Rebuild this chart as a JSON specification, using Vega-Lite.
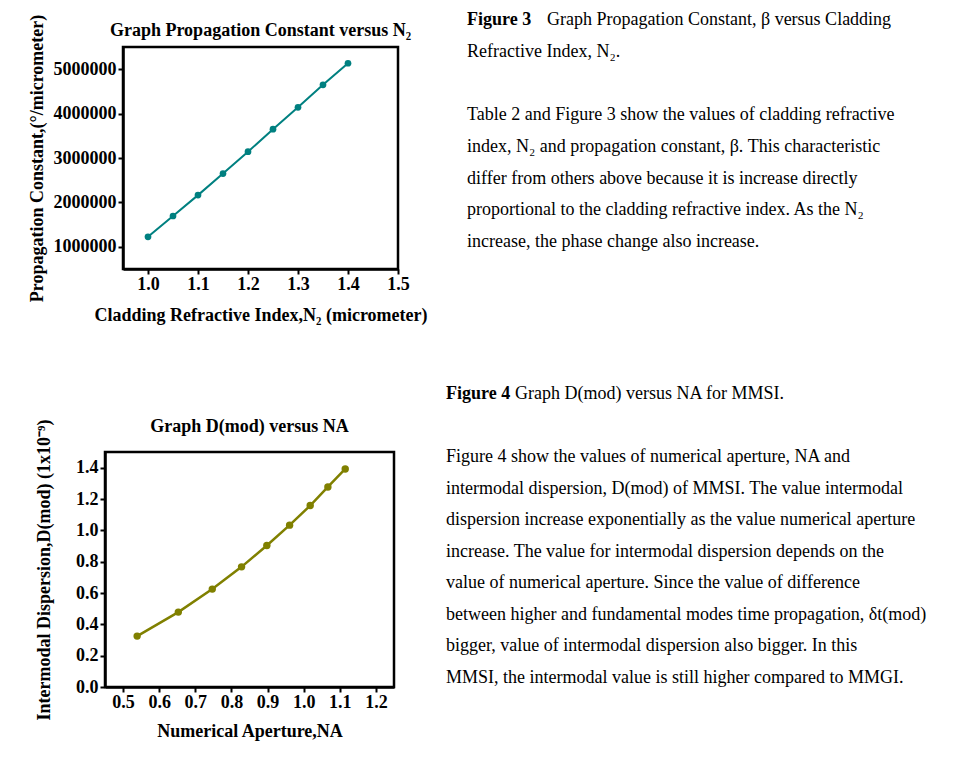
{
  "$schema": "https://vega.github.io/schema/vega-lite/v6.json",
  "background": "white",
  "padding": {"left": 5, "top": 11, "right": 5, "bottom": 5},
  "config": {
    "font": "Liberation Serif",
    "view": {"stroke": "black", "strokeWidth": 2.5},
    "axis": {
      "labelFont": "Liberation Serif", "labelFontSize": 18, "labelFontWeight": "bold", "labelColor": "black",
      "titleFont": "Liberation Serif", "titleFontSize": 18, "titleFontWeight": "bold", "titleColor": "black",
      "domainColor": "black", "domainWidth": 2.5, "tickColor": "black", "tickWidth": 2, "tickSize": 5,
      "grid": false, "labelOverlap": false, "labelFlush": false
    },
    "title": {"font": "Liberation Serif", "fontSize": 18, "fontWeight": "bold", "color": "black", "frame": "group", "baseline": "alphabetic"}
  },
  "spacing": 58,
  "vconcat": [
    {
      "spacing": 0,
      "hconcat": [
        {
          "width": 21, "height": 1,
          "view": {"stroke": null},
          "data": {"values": []},
          "mark": "point",
          "encoding": {}
        },
        {
          "width": 275, "height": 222,
          "title": {"text": "Graph Propagation Constant versus N₂", "offset": -26},
          "data": {"values": [
            {"n2": 1.00, "beta": 1224000}, {"n2": 1.05, "beta": 1694000}, {"n2": 1.10, "beta": 2164000},
            {"n2": 1.15, "beta": 2649000}, {"n2": 1.20, "beta": 3142000}, {"n2": 1.25, "beta": 3649000},
            {"n2": 1.30, "beta": 4142000}, {"n2": 1.35, "beta": 4649000}, {"n2": 1.40, "beta": 5134000}
          ]},
          "mark": {"type": "line", "color": "#008080", "strokeWidth": 2, "point": {"filled": true, "size": 45, "color": "#008080"}},
          "encoding": {
            "x": {"field": "n2", "type": "quantitative", "scale": {"domain": [0.95, 1.5], "nice": false, "zero": false},
                  "axis": {"values": [1.0, 1.1, 1.2, 1.3, 1.4, 1.5], "format": ".1f", "labelPadding": 1, "titlePadding": 13,
                           "title": "Cladding Refractive Index,N₂ (micrometer)"}},
            "y": {"field": "beta", "type": "quantitative", "scale": {"domain": [500000, 5500000], "nice": false, "zero": false},
                  "axis": {"values": [1000000, 2000000, 3000000, 4000000, 5000000], "format": "d", "labelPadding": 2, "titlePadding": 7,
                           "title": "Propagation Constant,(°/micrometer)"}}
          }
        },
        {
          "width": 500, "height": 222,
          "view": {"stroke": null},
          "data": {"values": [
            {"line": 0, "part": "bold", "text": "Figure 3"},
            {"line": 0, "part": "after", "text": "Graph Propagation Constant, β versus Cladding"},
            {"line": 1, "part": "body", "text": "Refractive Index, N₂."},
            {"line": 3, "part": "body", "text": "Table 2 and Figure 3 show the values of cladding refractive"},
            {"line": 4, "part": "body", "text": "index, N₂ and propagation constant, β.  This characteristic"},
            {"line": 5, "part": "body", "text": "differ from others above because it is increase directly"},
            {"line": 6, "part": "body", "text": "proportional to the cladding refractive index.  As the N₂"},
            {"line": 7, "part": "body", "text": "increase, the phase change also increase."}
          ]},
          "encoding": {
            "y": {"field": "line", "type": "quantitative", "scale": {"domain": [0.85, 7.853], "reverse": true, "nice": false, "zero": false}, "axis": null},
            "x": {"value": 38},
            "text": {"field": "text"}
          },
          "layer": [
            {"transform": [{"filter": "datum.part == 'bold'"}],
             "mark": {"type": "text", "align": "left", "baseline": "middle", "font": "Liberation Serif", "fontSize": 18, "fontWeight": "bold", "color": "black"}},
            {"transform": [{"filter": "datum.part == 'after'"}],
             "mark": {"type": "text", "align": "left", "baseline": "middle", "font": "Liberation Serif", "fontSize": 18, "color": "black", "dx": 80}},
            {"transform": [{"filter": "datum.part == 'body'"}],
             "mark": {"type": "text", "align": "left", "baseline": "middle", "font": "Liberation Serif", "fontSize": 18, "color": "black"}}
          ]
        }
      ]
    },
    {
      "spacing": 0,
      "hconcat": [
        {
          "width": 29, "height": 1,
          "view": {"stroke": null},
          "data": {"values": []},
          "mark": "point",
          "encoding": {}
        },
        {
          "width": 289, "height": 235,
          "title": {"text": "Graph D(mod) versus NA", "offset": -17},
          "data": {"values": [
            {"na": 0.539, "dmod": 0.325}, {"na": 0.653, "dmod": 0.478}, {"na": 0.747, "dmod": 0.625},
            {"na": 0.828, "dmod": 0.767}, {"na": 0.898, "dmod": 0.903}, {"na": 0.961, "dmod": 1.033},
            {"na": 1.018, "dmod": 1.158}, {"na": 1.067, "dmod": 1.277}, {"na": 1.115, "dmod": 1.392}
          ]},
          "mark": {"type": "line", "color": "#808000", "strokeWidth": 2.5, "point": {"filled": true, "size": 55, "color": "#808000"}},
          "encoding": {
            "x": {"field": "na", "type": "quantitative", "scale": {"domain": [0.45, 1.25], "nice": false, "zero": false},
                  "axis": {"values": [0.5, 0.6, 0.7, 0.8, 0.9, 1.0, 1.1, 1.2], "format": ".1f", "labelPadding": 1, "titlePadding": 11,
                           "title": "Numerical Aperture,NA"}},
            "y": {"field": "dmod", "type": "quantitative", "scale": {"domain": [0, 1.5], "nice": false, "zero": false},
                  "axis": {"values": [0, 0.2, 0.4, 0.6, 0.8, 1.0, 1.2, 1.4], "format": ".1f", "labelPadding": 2, "titlePadding": 22,
                           "title": "Intermodal Dispersion,D(mod) (1x10⁻⁹)"}}
          }
        },
        {
          "width": 540, "height": 235,
          "view": {"stroke": null},
          "data": {"values": [
            {"line": 0, "part": "bold", "text": "Figure 4"},
            {"line": 0, "part": "after", "text": "Graph D(mod)  versus NA for MMSI."},
            {"line": 2, "part": "body", "text": "Figure 4 show the values of numerical aperture, NA and"},
            {"line": 3, "part": "body", "text": "intermodal dispersion, D(mod) of MMSI. The value intermodal"},
            {"line": 4, "part": "body", "text": "dispersion increase exponentially as the value numerical aperture"},
            {"line": 5, "part": "body", "text": "increase. The value for intermodal dispersion depends on the"},
            {"line": 6, "part": "body", "text": "value of numerical aperture. Since the value of difference"},
            {"line": 7, "part": "body", "text": "between higher and fundamental modes time propagation, δt(mod)"},
            {"line": 8, "part": "body", "text": "bigger, value of intermodal dispersion also bigger. In this"},
            {"line": 9, "part": "body", "text": "MMSI, the intermodal value is still higher compared to MMGI."}
          ]},
          "encoding": {
            "y": {"field": "line", "type": "quantitative", "scale": {"domain": [1.838, 9.284], "reverse": true, "nice": false, "zero": false}, "axis": null},
            "x": {"value": 50},
            "text": {"field": "text"}
          },
          "layer": [
            {"transform": [{"filter": "datum.part == 'bold'"}],
             "mark": {"type": "text", "align": "left", "baseline": "middle", "font": "Liberation Serif", "fontSize": 18, "fontWeight": "bold", "color": "black"}},
            {"transform": [{"filter": "datum.part == 'after'"}],
             "mark": {"type": "text", "align": "left", "baseline": "middle", "font": "Liberation Serif", "fontSize": 18, "color": "black", "dx": 69}},
            {"transform": [{"filter": "datum.part == 'body'"}],
             "mark": {"type": "text", "align": "left", "baseline": "middle", "font": "Liberation Serif", "fontSize": 18, "color": "black"}}
          ]
        }
      ]
    }
  ]
}
